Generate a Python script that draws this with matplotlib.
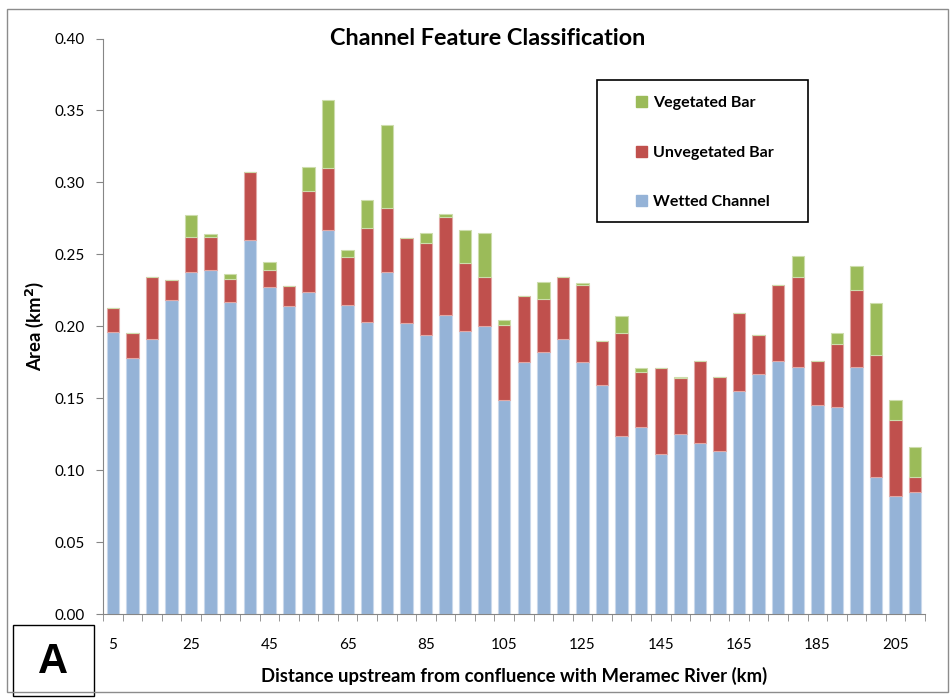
import matplotlib.pyplot as plt
from matplotlib.patches import Patch, Rectangle
from matplotlib.ticker import FormatStrFormatter

# distance upstream (km) for each reach
DISTANCE = [5, 10, 15, 20, 25, 30, 35, 40, 45, 50, 55, 60, 65, 70,
            75, 80, 85, 90, 95, 100, 105, 110, 115, 120, 125, 130, 135, 140,
            145, 150, 155, 160, 165, 170, 175, 180, 185, 190, 195, 200, 205, 210]

# area per feature class (km^2)
WETTED = [0.196, 0.178, 0.191, 0.218, 0.238, 0.239, 0.217, 0.260, 0.227, 0.214, 0.224, 0.267, 0.215, 0.203,
          0.238, 0.202, 0.194, 0.208, 0.197, 0.200, 0.149, 0.175, 0.182, 0.191, 0.175, 0.159, 0.124, 0.130,
          0.111, 0.125, 0.119, 0.113, 0.155, 0.167, 0.176, 0.172, 0.145, 0.144, 0.172, 0.095, 0.082, 0.085]
UNVEGETATED = [0.017, 0.017, 0.043, 0.014, 0.024, 0.023, 0.016, 0.047, 0.012, 0.014, 0.070, 0.043, 0.033, 0.065,
               0.044, 0.059, 0.064, 0.068, 0.047, 0.034, 0.052, 0.046, 0.037, 0.043, 0.054, 0.031, 0.071, 0.038,
               0.060, 0.039, 0.057, 0.052, 0.054, 0.027, 0.053, 0.062, 0.031, 0.044, 0.053, 0.085, 0.053, 0.010]
VEGETATED = [0.0, 0.0, 0.0, 0.0, 0.015, 0.002, 0.003, 0.0, 0.006, 0.0, 0.017, 0.047, 0.005, 0.020,
             0.058, 0.0, 0.007, 0.002, 0.023, 0.031, 0.003, 0.0, 0.012, 0.0, 0.001, 0.0, 0.012, 0.003,
             0.0, 0.001, 0.0, 0.0, 0.0, 0.0, 0.0, 0.015, 0.0, 0.007, 0.017, 0.036, 0.014, 0.021]

LABEL_EVERY = 4
COLORS = {'wet': '#95B3D7', 'unveg': '#C0504D', 'veg': '#9BBB59'}
EDGES = {'wet': '#C9D8EB', 'unveg': '#E2A8A6', 'veg': '#CDDDAC'}

plt.rcParams['font.family'] = ['Lato', 'DejaVu Sans']

fig = plt.figure(figsize=(9.53, 6.98), dpi=100)
ax = fig.add_axes([103 / 953, 1 - 614 / 698, 822 / 953, 575.5 / 698])

x = list(range(len(DISTANCE)))
base2 = [w + u for w, u in zip(WETTED, UNVEGETATED)]
width = 0.64
ax.bar(x, WETTED, width, color=COLORS['wet'], edgecolor=EDGES['wet'], linewidth=0.8)
ax.bar(x, UNVEGETATED, width, bottom=WETTED, color=COLORS['unveg'], edgecolor=EDGES['unveg'], linewidth=0.8)
ax.bar(x, VEGETATED, width, bottom=base2, color=COLORS['veg'], edgecolor=EDGES['veg'], linewidth=0.8)

# axes styling
ax.set_xlim(-0.5, len(DISTANCE) - 0.5)
ax.set_ylim(0, 0.40)
ax.set_yticks([i * 0.05 for i in range(9)])
ax.yaxis.set_major_formatter(FormatStrFormatter('%.2f'))
ax.set_xticks(x[::LABEL_EVERY])
ax.set_xticklabels([str(d) for d in DISTANCE[::LABEL_EVERY]])
ax.set_xticks([i - 0.5 for i in range(len(DISTANCE) + 1)], minor=True)
ax.tick_params(axis='x', which='major', length=0, pad=17, labelsize=11)
ax.tick_params(axis='x', which='minor', length=5, color='#868686', direction='out')
ax.tick_params(axis='y', length=5, color='#868686', labelsize=11, pad=8)
for s in ['top', 'right']:
    ax.spines[s].set_visible(False)
for s in ['left', 'bottom']:
    ax.spines[s].set_color('#868686')

ax.set_xlabel('Distance upstream from confluence with Meramec River (km)',
              fontsize=13.3, fontweight='bold', labelpad=11)
ax.set_ylabel('Area (km$^\\mathbf{2}$)', fontsize=13.3, fontweight='bold', labelpad=6)
fig.text(488 / 953, 1 - 38.5 / 698, 'Channel Feature Classification',
         ha='center', va='center', fontsize=16.8, fontweight='bold')

# legend with its own frame
fig.patches.append(Rectangle((597 / 953, 1 - 222 / 698), 211 / 953, 142 / 698,
                             transform=fig.transFigure, fill=False, edgecolor='black', linewidth=1.2))
handles = [Patch(color=COLORS['veg'], label='Vegetated Bar'),
           Patch(color=COLORS['unveg'], label='Unvegetated Bar'),
           Patch(color=COLORS['wet'], label='Wetted Channel')]
fig.legend(handles=handles, loc='upper left', bbox_to_anchor=(636 / 953, 1 - 96 / 698),
           frameon=False, borderpad=0, borderaxespad=0, labelspacing=2.22,
           handlelength=0.7, handleheight=0.7, handletextpad=0.35,
           prop={'family': 'Lato', 'weight': 'bold', 'size': 11.5})

# panel letter
fig.patches.append(Rectangle((13 / 953, 1 - 696 / 698), 81 / 953, 71 / 698,
                             transform=fig.transFigure, fill=False, edgecolor='black', linewidth=1.0))
fig.text(53 / 953, 1 - 662 / 698, 'A', ha='center', va='center', fontsize=30,
         fontweight='bold', family='Liberation Sans')

# chart border
fig.patches.append(Rectangle((7 / 953, 1 - 692 / 698), 941 / 953, 683 / 698,
                             transform=fig.transFigure, fill=False, edgecolor='#8C8C8C', linewidth=1.0))

fig.savefig('out.png', dpi=100)
